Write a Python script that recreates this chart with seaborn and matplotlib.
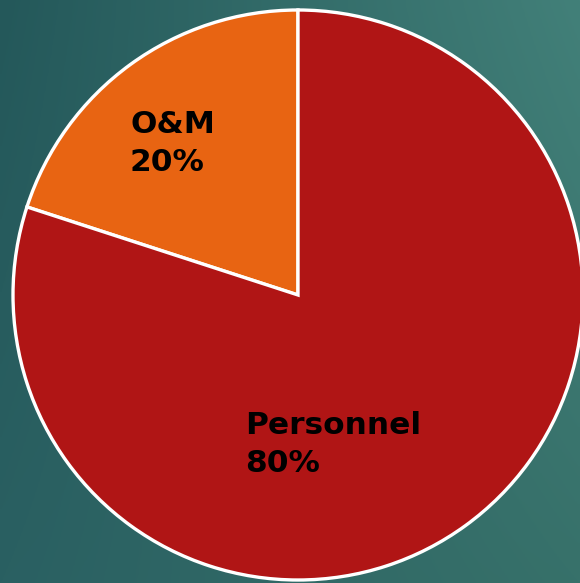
import numpy as np
import matplotlib
matplotlib.use("Agg")
import matplotlib.pyplot as plt
import seaborn as sns

labels = ["O&M", "Personnel"]
shares = [20, 80]
colors = ["#e86412", "#b01515"]

sns.set_style("white")
plt.rcParams['font.family'] = ['DejaVu Sans']

fig = plt.figure(figsize=(5.8, 5.83), dpi=100)
ax = fig.add_axes([0, 0, 1, 1])

# teal gradient background (corner colours blended smoothly)
tl = np.array([0x24, 0x58, 0x5a]) / 255
tr = np.array([0x42, 0x80, 0x79]) / 255
bl = np.array([0x2a, 0x60, 0x62]) / 255
br = np.array([0x37, 0x71, 0x6a]) / 255
u = np.linspace(0, 1, 200)[None, :, None]
v = np.linspace(0, 1, 200)[:, None, None]
grad = (1 - v) * ((1 - u) * bl + u * br) + v * ((1 - u) * tl + u * tr)
ax.imshow(grad, extent=[0, 580, 0, 583], origin='lower', aspect='auto', zorder=0)

wedges, _ = ax.pie(shares, colors=colors, startangle=90, counterclock=True,
                   center=(298, 288), radius=285,
                   wedgeprops=dict(edgecolor='white', linewidth=2.4))
for w in wedges:
    w.set_zorder(2)

ax.text(130, 473, "O&M\n20%", ha='left', va='top', fontsize=22.5, fontweight='bold',
        color='black', linespacing=1.38, zorder=3)
ax.text(245, 172, "Personnel\n80%", ha='left', va='top', fontsize=22.5, fontweight='bold',
        color='black', linespacing=1.38, zorder=3)

ax.set_xlim(0, 580)
ax.set_ylim(0, 583)
ax.set_aspect('auto')
ax.axis('off')

fig.savefig("out.png", dpi=100)
